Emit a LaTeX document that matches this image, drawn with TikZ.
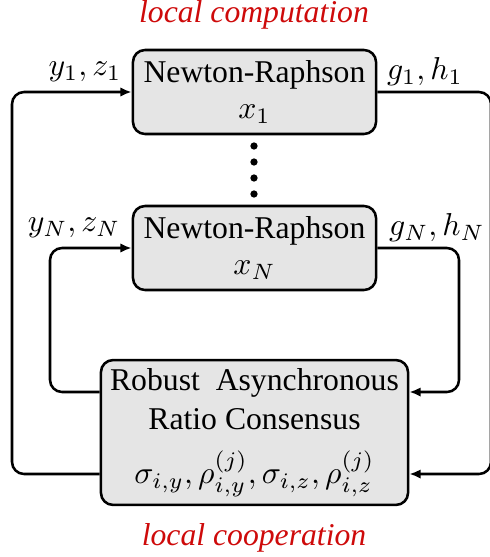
\documentclass[tikz,border=0pt]{standalone}
\usepackage[no-math]{fontspec}
\setmainfont{Liberation Serif}
\usetikzlibrary{arrows.meta}
\definecolor{lblred}{RGB}{206,10,10}
\begin{document}
\begin{tikzpicture}[x=0.3155pt,y=-0.3155pt,
  box/.style={draw, line width=0.8pt, fill=gray!20, rounded corners=3.8pt, inner sep=0pt, align=center, font=\fontsize{10}{12}\selectfont},
  link/.style={line width=0.8pt, rounded corners=3.8pt},
  tip/.style={-{Latex[length=3.6pt,width=3pt]}},
  note/.style={font=\itshape, text=lblred},
  lbl/.style={inner sep=0pt}]
\useasboundingbox (0,0) rectangle (489,557);
\node[box, minimum width=76.7pt, minimum height=26.5pt] (nr1) at (254.5,92) {Newton-Raphson\\[-0.5pt]$x_1$};
\node[box, minimum width=76.7pt, minimum height=26.5pt] (nrn) at (254.5,248) {Newton-Raphson\\[-0.5pt]$x_N$};
\node[box, minimum width=96.9pt, minimum height=45.7pt] (rarc) at (254.5,432.5)
  {Robust\ \ Asynchronous\\[0.5pt]Ratio Consensus\\[5pt]$\sigma_{i,y},\rho^{(j)}_{i,y},\sigma_{i,z},\rho^{(j)}_{i,z}$};
\foreach \yy in {146,162,178,194} \fill (254,\yy) circle (1.15pt);
\coordinate (lo) at (0,474);
\coordinate (li) at (0,392);
\draw[link,tip] (rarc.west |- lo) -- (12,474) -- (12,92) -- (nr1.west);
\draw[link,tip] (nr1.east) -- (491,92) -- (491,474) -- (rarc.east |- lo);
\draw[link,tip] (rarc.west |- li) -- (50,392) -- (50,248) -- (nrn.west);
\draw[link,tip] (nrn.east) -- (459,248) -- (459,392) -- (rarc.east |- li);
\node[lbl] (l1) at (85,72) {$y_1,z_1$};
\node[lbl] (r1) at (425,72) {$g_1,h_1$};
\node[lbl] (ln) at (74,228) {$y_N,z_N$};
\node[lbl] (rn) at (437,228) {$g_N,h_N$};
\node[note] (t1) at (254,15) {local computation};
\node[note] (t2) at (254,538) {local cooperation};
\end{tikzpicture}
\end{document}
